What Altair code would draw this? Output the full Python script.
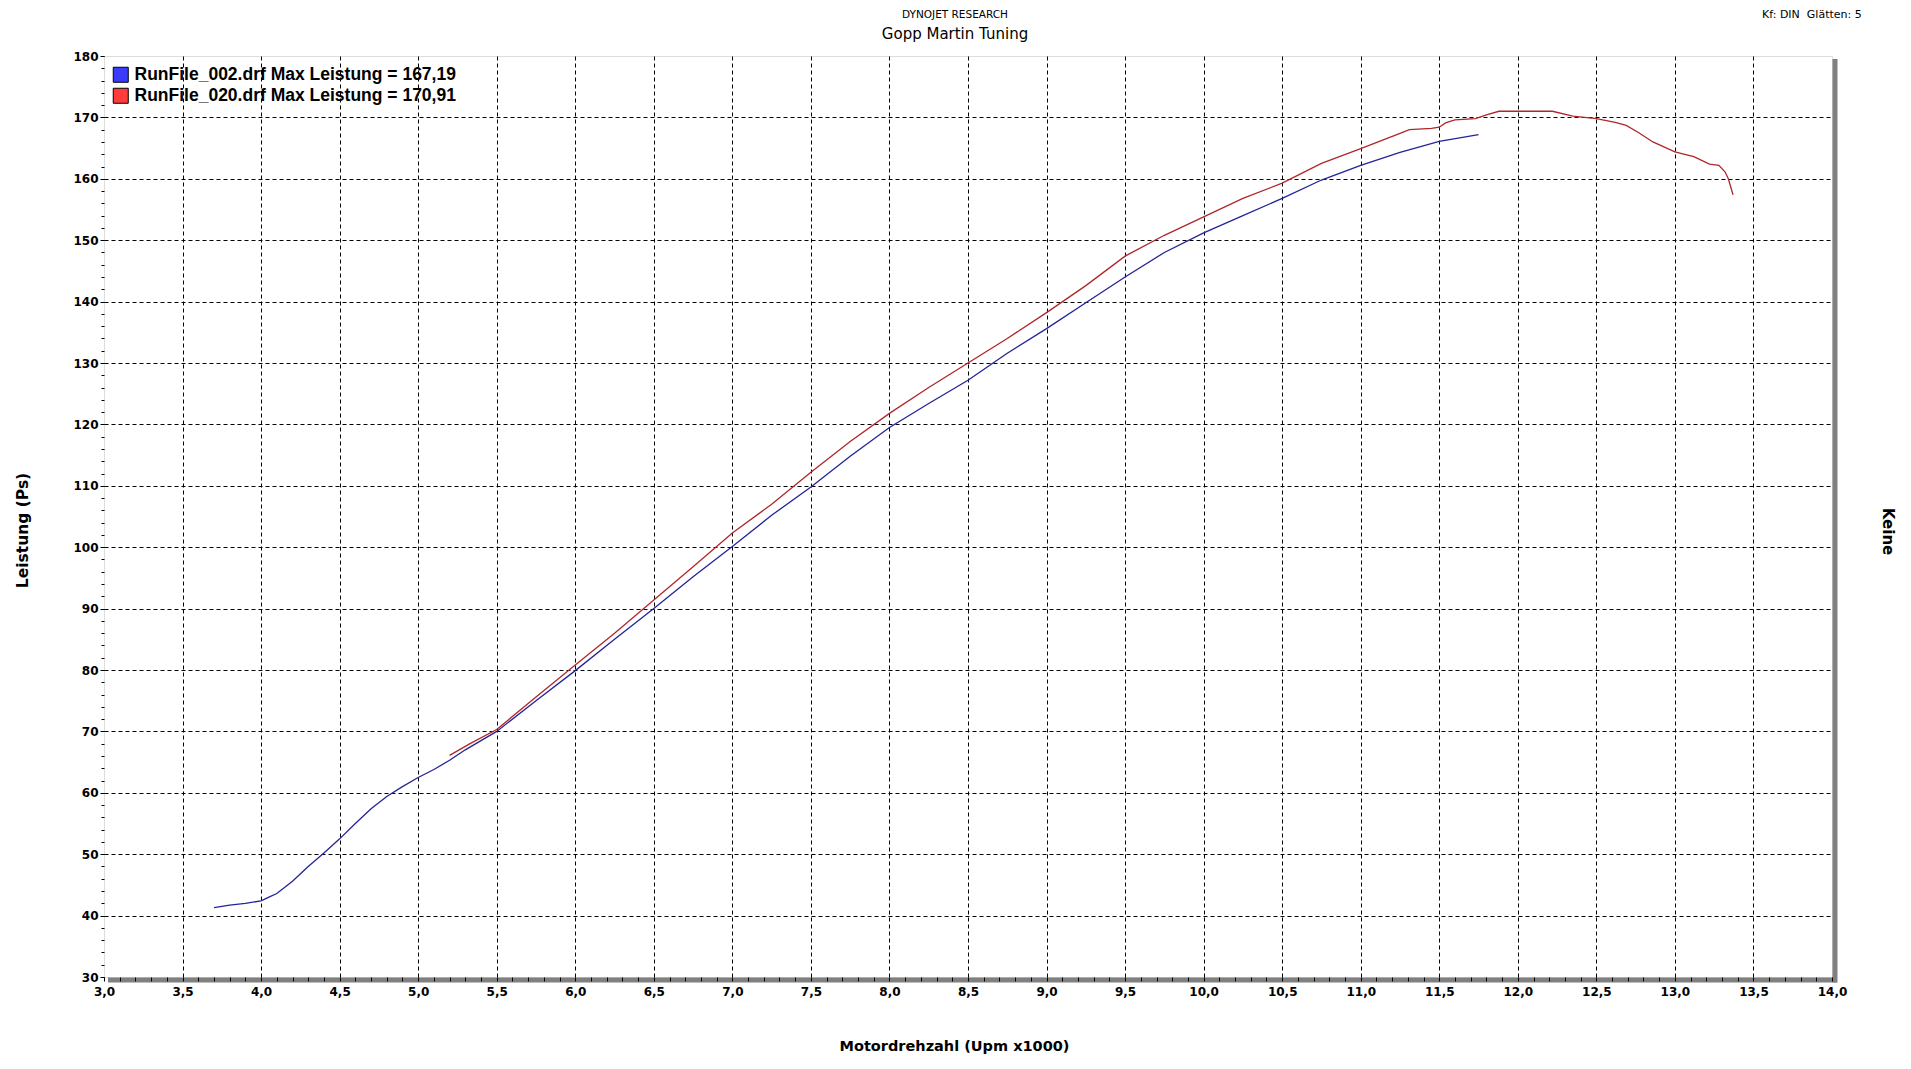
import altair as alt
import pandas as pd

# ---------------- data ----------------
rpm_002 = [3.70, 3.80, 3.90, 4.00, 4.05, 4.10, 4.20, 4.30, 4.40, 4.50, 4.60, 4.70, 4.80, 4.90,
           5.00, 5.10, 5.20, 5.30, 5.40, 5.50, 5.75, 6.00, 6.25, 6.50, 6.75, 7.00, 7.25, 7.50,
           7.75, 8.00, 8.25, 8.50, 8.75, 9.00, 9.25, 9.50, 9.75, 10.00, 10.25, 10.50, 10.75,
           11.00, 11.25, 11.50, 11.75]
ps_002 = [41.3, 41.7, 42.0, 42.4, 43.0, 43.6, 45.6, 48.0, 50.2, 52.5, 55.0, 57.4, 59.4, 61.0,
          62.5, 63.8, 65.3, 67.0, 68.5, 70.0, 75.0, 79.9, 85.0, 90.0, 95.2, 100.1, 105.2, 109.8,
          114.8, 119.5, 123.4, 127.2, 131.6, 135.6, 139.8, 144.0, 148.0, 151.2, 154.0, 156.8, 159.8,
          162.2, 164.3, 166.1, 167.2]

rpm_020 = [5.20, 5.33, 5.50, 5.75, 6.00, 6.25, 6.50, 6.75, 7.00, 7.25, 7.50, 7.75, 8.00, 8.25,
           8.50, 8.75, 9.00, 9.25, 9.50, 9.75, 10.00, 10.25, 10.50, 10.75, 11.00, 11.25, 11.31,
           11.45, 11.50, 11.54, 11.60, 11.73, 11.80, 11.88, 12.22, 12.35, 12.50, 12.62, 12.69,
           12.77, 12.86, 13.00, 13.12, 13.22, 13.28, 13.32, 13.34, 13.37]
ps_020 = [66.1, 68.0, 70.3, 75.6, 80.8, 86.0, 91.4, 96.8, 102.3, 107.0, 112.2, 117.2, 121.8, 126.0,
          130.0, 134.0, 138.2, 142.6, 147.4, 150.8, 153.8, 156.8, 159.3, 162.5, 164.9, 167.4, 168.0,
          168.2, 168.4, 169.1, 169.6, 169.8, 170.4, 171.0, 171.0, 170.2, 169.8, 169.2, 168.7,
          167.5, 166.0, 164.4, 163.6, 162.4, 162.2, 161.1, 160.0, 157.4]

series_names = ["RunFile_002.drf Max Leistung = 167,19",
                "RunFile_020.drf Max Leistung = 170,91"]
line_colors = ["#23239a", "#b0262a"]
swatch_colors = ["#3b3bff", "#ff3b3b"]

x_major = [3.0, 3.5, 4.0, 4.5, 5.0, 5.5, 6.0, 6.5, 7.0, 7.5, 8.0, 8.5, 9.0, 9.5, 10.0,
           10.5, 11.0, 11.5, 12.0, 12.5, 13.0, 13.5, 14.0]
x_minor = [round(3.0 + 0.1 * i, 1) for i in range(111)]
y_major = [30, 40, 50, 60, 70, 80, 90, 100, 110, 120, 130, 140, 150, 160, 170, 180]
y_minor = list(range(30, 181, 2))

header_top = ["DYNOJET RESEARCH"]
header_main = ["Gopp Martin Tuning"]
corner_note = ["Kf: DIN\u00a0 Glätten: 5"]
x_title = "Motordrehzahl (Upm x1000)"
y_title = "Leistung (Ps)"
right_title = "Keine"

# ---------------- tables ----------------
lines = pd.concat([
    pd.DataFrame({"rpm": rpm_002, "ps": ps_002, "run": series_names[0]}),
    pd.DataFrame({"rpm": rpm_020, "ps": ps_020, "run": series_names[1]}),
], ignore_index=True)
legend_df = pd.DataFrame({"rpm": [3.0, 3.0], "ps": [30, 30], "entry": series_names})
frame_df = pd.DataFrame({"x0": [3.0], "x1": [14.0], "y0": [30], "y1": [180]})

XS = alt.Scale(domain=[3, 14], nice=False, zero=False)
YS = alt.Scale(domain=[30, 180], nice=False, zero=False)

FONT = "DejaVu Sans"
grid_x = {"condition": {"test": "datum.value <= 3 || datum.value >= 14", "value": 0}, "value": 1}
grid_y = {"condition": {"test": "datum.value <= 30 || datum.value >= 180", "value": 0}, "value": 1}

# shadow bottom bar (also carries the minor tick axes)
shadow_bottom = alt.Chart(frame_df).mark_rect(
    color="#808080", xOffset=4, x2Offset=5, yOffset=0.5, y2Offset=5.5
).encode(
    x=alt.X("x0:Q", scale=XS, axis=alt.Axis(
        orient="bottom", values=x_minor, labels=False, grid=False, domain=False,
        ticks=True, tickSize=4, tickColor="black", tickWidth=1, title=None, zindex=2)),
    x2="x1:Q",
    y=alt.Y("y0:Q", scale=YS, axis=alt.Axis(
        orient="left", values=y_minor, labels=False, grid=False, domain=False,
        ticks=True, tickSize=3, tickColor="black", tickWidth=1, title=None)),
    y2="y0:Q",
)

shadow_right = alt.Chart(frame_df).mark_rect(
    color="#808080", xOffset=0.5, x2Offset=5.5, yOffset=3, y2Offset=5.5
).encode(
    x=alt.X("x1:Q", scale=XS, axis=None),
    x2="x1:Q",
    y=alt.Y("y1:Q", scale=YS, axis=alt.Axis(
        orient="right", labels=False, ticks=False, grid=False, domain=False,
        title=right_title, titleFont=FONT, titleFontSize=15, titleFontWeight="bold",
        titleColor="black", titlePadding=47, titleY=475)),
    y2="y0:Q",
)

runs = alt.Chart(lines).mark_line(strokeWidth=1.3, interpolate="linear").encode(
    x=alt.X("rpm:Q", scale=XS, axis=alt.Axis(
        orient="bottom", values=x_major, grid=True, gridDash=[4, 3], gridColor="black",
        gridWidth=1, gridOpacity=grid_x, ticks=False, tickSize=0, domain=False,
        labelExpr="replace(format(datum.value, '.1f'), '.', ',')",
        labelFont=FONT, labelFontSize=12, labelFontWeight="bold", labelColor="black",
        labelPadding=9, labelFlush=False, labelOverlap=False,
        title=x_title, titleFont=FONT, titleFontSize=14.5, titleFontWeight="bold",
        titleColor="black", titlePadding=42, titleX=850)),
    y=alt.Y("ps:Q", scale=YS, axis=alt.Axis(
        orient="left", values=y_major, grid=True, gridDash=[4, 3], gridColor="black",
        gridWidth=1, gridOpacity=grid_y, ticks=True, tickSize=4, tickColor="black",
        domain=False, labelFont=FONT, labelFontSize=12, labelFontWeight="bold",
        labelColor="black", labelPadding=2, labelFlush=False, labelOverlap=False,
        title=y_title, titleFont=FONT, titleFontSize=15.5, titleFontWeight="bold",
        titleColor="black", titlePadding=42, titleY=474)),
    color=alt.Color("run:N", scale=alt.Scale(range=line_colors), legend=None),
    detail="run:N",
)

legend_layer = alt.Chart(legend_df).mark_point(
    filled=True, shape="square", size=0
).encode(
    x=alt.X("rpm:Q", scale=XS, axis=None),
    y=alt.Y("ps:Q", scale=YS, axis=None),
    fill=alt.Fill("entry:N", scale=alt.Scale(domain=series_names, range=swatch_colors),
                  legend=alt.Legend(
                      title=None, orient="none", legendX=8, legendY=10, direction="vertical",
                      symbolType="square", symbolSize=225, symbolOpacity=1,
                      symbolStrokeColor="black", symbolStrokeWidth=1,
                      labelFont="Liberation Sans", labelFontSize=17.5, labelFontWeight="bold",
                      labelColor="black", labelOffset=5, rowPadding=1, padding=0,
                      labelLimit=500)),
)

top_line = alt.Chart(pd.DataFrame({"t": header_top})).mark_text(
    align="center", baseline="alphabetic", font=FONT, fontSize=10.5, color="black"
).encode(x=alt.value(851), y=alt.value(-37.7), text="t:N")

main_line = alt.Chart(pd.DataFrame({"t": header_main})).mark_text(
    align="center", baseline="alphabetic", font=FONT, fontSize=15, color="black"
).encode(x=alt.value(851), y=alt.value(-17), text="t:N")

note = alt.Chart(pd.DataFrame({"t": corner_note})).mark_text(
    align="left", baseline="alphabetic", font=FONT, fontSize=11, color="black"
).encode(x=alt.value(1658), y=alt.value(-37.7), text="t:N")

chart = alt.layer(
    shadow_bottom, shadow_right, runs, legend_layer, top_line, main_line, note
).resolve_axis(
    x="independent", y="independent"
).properties(
    width=1728, height=921,
    autosize=alt.AutoSizeParams(type="none"),
    padding={"left": 96, "top": 48, "right": 66, "bottom": 80},
).configure_view(
    stroke="black", strokeWidth=1.2, cornerRadius=6, fill="white"
).configure(background="white")

chart.save("out.html", embed_options={"renderer": "svg", "actions": False})
